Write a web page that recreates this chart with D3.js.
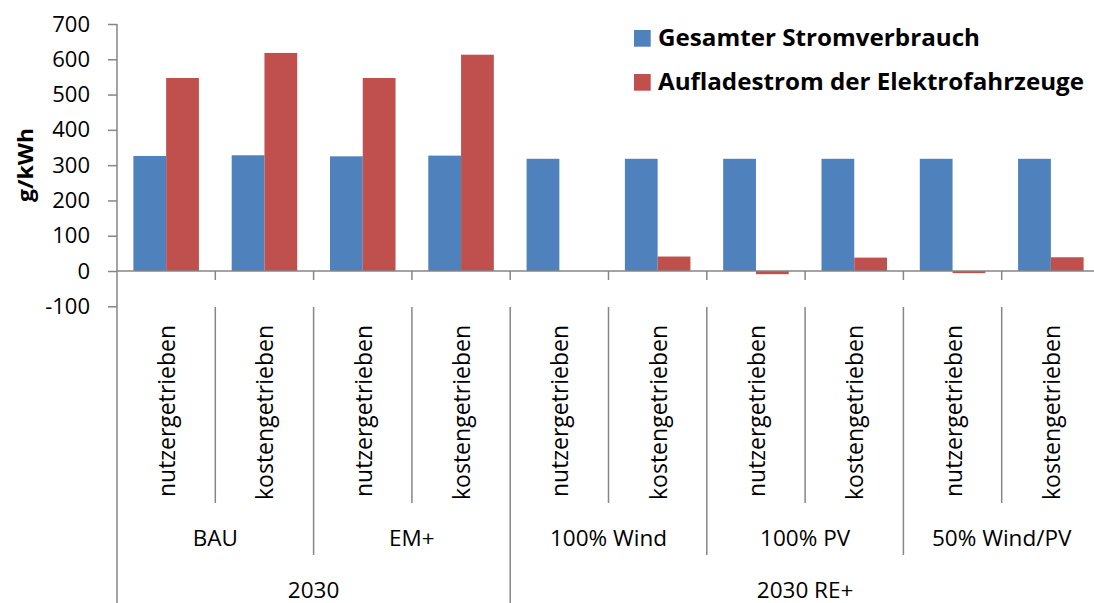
<!DOCTYPE html>
<html><head><meta charset="utf-8">
<script src="https://cdn.jsdelivr.net/npm/d3@7"></script>
<style>html,body{margin:0;padding:0;background:#fff;overflow:hidden}</style>
</head><body>
<svg id="c" width="1094" height="603"></svg>
<script>
// ---- data ----
const subCategories = ["nutzergetrieben","kostengetrieben","nutzergetrieben","kostengetrieben","nutzergetrieben","kostengetrieben","nutzergetrieben","kostengetrieben","nutzergetrieben","kostengetrieben"];
const scenarios = ["BAU","EM+","100% Wind","100% PV","50% Wind/PV"];
const years = ["2030","2030 RE+"];
const yearSpans = [2,3]; // number of scenarios per year group
const seriesNames = ["Gesamter Stromverbrauch","Aufladestrom der Elektrofahrzeuge"];
const gesamt = [326,328,325,327,318,318,318,318,318,318];
const auflade = [547,618,547,613,0,41,-9,38,-6,39];
const yTicks = [-100,0,100,200,300,400,500,600,700];
const colors = ["#4F81BD","#C0504D"];

(function(){
const svg = d3.select("#c");
const leftX = 117, catW = 98.3, plotTop = 24, plotBottom = 306.3;
const x = d3.scaleBand().domain(d3.range(subCategories.length)).range([leftX, leftX + catW*subCategories.length]).padding(0);
const xs = d3.scaleBand().domain([0,1]).range([x.bandwidth()/6, x.bandwidth()*5/6]).padding(0);
const y = d3.scaleLinear().domain([-100,700]).range([plotBottom, plotTop]);
const axisCol = "#868686";
const font = "'Open Sans', sans-serif";

// bars
const rows = subCategories.map((c,i)=>({i, v:[gesamt[i], auflade[i]]}));
const g = svg.append("g");
rows.forEach(r=>{
  r.v.forEach((v,s)=>{
    g.append("rect")
      .attr("x", x(r.i) + xs(s))
      .attr("width", xs.bandwidth())
      .attr("y", Math.min(y(v), y(0)))
      .attr("height", Math.abs(y(v)-y(0)))
      .attr("fill", colors[s]);
  });
});

// y axis
const yAxis = d3.axisLeft(y).tickValues(yTicks).tickSize(9).tickPadding(18).tickFormat(d=>String(d));
const ya = svg.append("g").attr("transform",`translate(${leftX},0)`).call(yAxis);
ya.select(".domain").remove();
ya.selectAll(".tick line").attr("stroke",axisCol).attr("stroke-width",1.5);
ya.selectAll(".tick text").attr("font-family",font).attr("font-size",22).attr("fill","#000");
svg.append("line").attr("x1",leftX).attr("x2",leftX).attr("y1",plotTop).attr("y2",603).attr("stroke",axisCol).attr("stroke-width",1.5);

// x axis baseline & ticks
const x0 = y(0);
svg.append("line").attr("x1",leftX).attr("x2",leftX+catW*10).attr("y1",x0).attr("y2",x0).attr("stroke",axisCol).attr("stroke-width",1.5);
d3.range(1,11).forEach(k=>{
  const xx = leftX + k*x.step();
  svg.append("line").attr("x1",xx).attr("x2",xx).attr("y1",x0).attr("y2",x0+9).attr("stroke",axisCol).attr("stroke-width",1.5);
});

// level separators
const sepTop = 307;
d3.range(1,10).forEach(k=>{
  const xx = leftX + k*x.step();
  let y2 = 503;
  if (k % 2 === 0) y2 = 555;
  if (k === 4) y2 = 603;
  svg.append("line").attr("x1",xx).attr("x2",xx).attr("y1",sepTop).attr("y2",y2).attr("stroke",axisCol).attr("stroke-width",1.5);
});

// level 1 labels (rotated)
subCategories.forEach((c,i)=>{
  const cx = x(i) + x.bandwidth()/2;
  svg.append("text").attr("transform",`translate(${cx},325) rotate(-90)`)
    .attr("text-anchor","end").attr("dominant-baseline","central")
    .attr("font-family",font).attr("font-size",23).attr("fill","#000")
    .attr("textLength", c.startsWith("n") ? 172 : 175).attr("lengthAdjust","spacingAndGlyphs")
    .text(c);
});
// level 2
scenarios.forEach((s,j)=>{
  const cx = leftX + (j*2+1)*x.step();
  svg.append("text").attr("x",cx).attr("y",546).attr("text-anchor","middle")
    .attr("font-family",font).attr("font-size",22.5).attr("fill","#000").text(s);
});
// level 3
let acc = 0;
years.forEach((yr,j)=>{
  const n = yearSpans[j]*2;
  const cx = leftX + (acc + n/2)*x.step();
  acc += n;
  svg.append("text").attr("x",cx).attr("y",597.5).attr("text-anchor","middle")
    .attr("font-family",font).attr("font-size",22.5).attr("fill","#000").text(yr);
});

// y title
svg.append("text").attr("transform","translate(25,165) rotate(-90)")
  .attr("text-anchor","middle").attr("dominant-baseline","central")
  .attr("font-family",font).attr("font-weight","bold").attr("font-size",21).attr("fill","#000")
  .attr("textLength",74).attr("lengthAdjust","spacingAndGlyphs").text("g/kWh");

// legend
const legW = [322, 426];
seriesNames.forEach((n,i)=>{
  const ly = 30 + i*44;
  svg.append("rect").attr("x",634).attr("y",ly).attr("width",16.7).attr("height",16.7).attr("fill",colors[i]);
  svg.append("text").attr("x",658).attr("y",ly+16)
    .attr("font-family",font).attr("font-weight","bold").attr("font-size",23.5).attr("fill","#000")
    .attr("textLength",legW[i]).attr("lengthAdjust","spacingAndGlyphs").text(n);
});
})();
</script>
</body></html>
